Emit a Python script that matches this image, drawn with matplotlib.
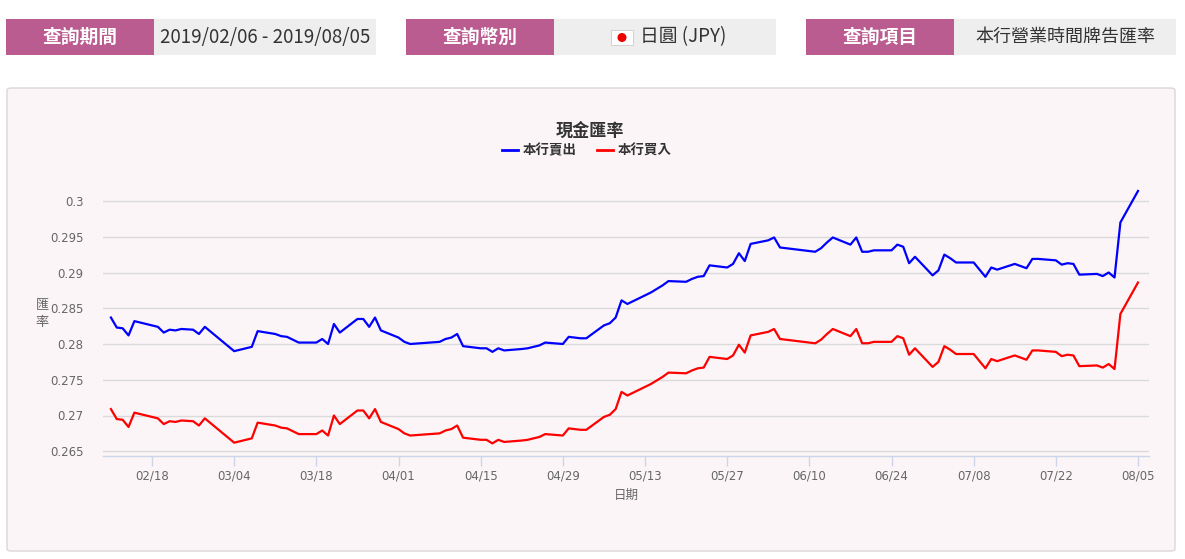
import pandas as pd
import matplotlib
matplotlib.use('Agg')
import matplotlib.pyplot as plt
import matplotlib.dates as mdates
from matplotlib.patches import Rectangle, FancyBboxPatch, Ellipse
from matplotlib.lines import Line2D
from matplotlib.ticker import FixedLocator, FuncFormatter

plt.rcParams['font.family'] = ['Noto Sans CJK TC', 'DejaVu Sans']

# business days shown in the chart
dates = ['2019-02-11', '2019-02-12', '2019-02-13', '2019-02-14', '2019-02-15',
         '2019-02-18', '2019-02-19', '2019-02-20', '2019-02-21', '2019-02-22', '2019-02-23',
         '2019-02-25', '2019-02-26', '2019-02-27',
         '2019-03-04', '2019-03-05', '2019-03-06', '2019-03-07', '2019-03-08',
         '2019-03-11', '2019-03-12', '2019-03-13', '2019-03-14', '2019-03-15',
         '2019-03-18', '2019-03-19', '2019-03-20', '2019-03-21', '2019-03-22',
         '2019-03-25', '2019-03-26', '2019-03-27', '2019-03-28', '2019-03-29',
         '2019-04-01', '2019-04-02', '2019-04-03',
         '2019-04-08', '2019-04-09', '2019-04-10', '2019-04-11', '2019-04-12',
         '2019-04-15', '2019-04-16', '2019-04-17', '2019-04-18', '2019-04-19',
         '2019-04-22', '2019-04-23', '2019-04-24', '2019-04-25', '2019-04-26',
         '2019-04-29', '2019-04-30', '2019-05-02', '2019-05-03',
         '2019-05-06', '2019-05-07', '2019-05-08', '2019-05-09', '2019-05-10',
         '2019-05-13', '2019-05-14', '2019-05-15', '2019-05-16', '2019-05-17',
         '2019-05-20', '2019-05-21', '2019-05-22', '2019-05-23', '2019-05-24',
         '2019-05-27', '2019-05-28', '2019-05-29', '2019-05-30', '2019-05-31',
         '2019-06-03', '2019-06-04', '2019-06-05', '2019-06-06',
         '2019-06-10', '2019-06-11', '2019-06-12', '2019-06-13', '2019-06-14',
         '2019-06-17', '2019-06-18', '2019-06-19', '2019-06-20', '2019-06-21',
         '2019-06-24', '2019-06-25', '2019-06-26', '2019-06-27', '2019-06-28',
         '2019-07-01', '2019-07-02', '2019-07-03', '2019-07-04', '2019-07-05',
         '2019-07-08', '2019-07-09', '2019-07-10', '2019-07-11', '2019-07-12',
         '2019-07-15', '2019-07-16', '2019-07-17', '2019-07-18', '2019-07-19',
         '2019-07-22', '2019-07-23', '2019-07-24', '2019-07-25', '2019-07-26',
         '2019-07-29', '2019-07-30', '2019-07-31', '2019-08-01', '2019-08-02',
         '2019-08-05']

# 本行賣出
sell = [0.2837, 0.2823, 0.2822, 0.2812, 0.2832,
        0.2826, 0.2824, 0.2816, 0.2820, 0.2819, 0.2821,
        0.2820, 0.2814, 0.2824,
        0.2790, 0.2792, 0.2794, 0.2796, 0.2818,
        0.2814, 0.2811, 0.2810, 0.2806, 0.2802,
        0.2802, 0.2807, 0.2800, 0.2828, 0.2816,
        0.2835, 0.2835, 0.2824, 0.2837, 0.2819,
        0.2809, 0.2803, 0.2800,
        0.2803, 0.2807, 0.2809, 0.2814, 0.2797,
        0.2794, 0.2794, 0.2789, 0.2794, 0.2791,
        0.2793, 0.2794, 0.2796, 0.2798, 0.2802,
        0.2800, 0.2810, 0.2808, 0.2808,
        0.2826, 0.2829, 0.2837, 0.2861, 0.2856,
        0.2868, 0.2872, 0.2877, 0.2882, 0.2888,
        0.2887, 0.2891, 0.2894, 0.2895, 0.2910,
        0.2907, 0.2912, 0.2927, 0.2916, 0.2940,
        0.2945, 0.2949, 0.2935, 0.2934,
        0.2930, 0.2929, 0.2934, 0.2942, 0.2949,
        0.2939, 0.2949, 0.2929, 0.2929, 0.2931,
        0.2931, 0.2939, 0.2936, 0.2913, 0.2922,
        0.2896, 0.2903, 0.2925, 0.2920, 0.2914,
        0.2914, 0.2904, 0.2894, 0.2907, 0.2904,
        0.2912, 0.2909, 0.2906, 0.2919, 0.2919,
        0.2917, 0.2911, 0.2913, 0.2912, 0.2897,
        0.2898, 0.2895, 0.2900, 0.2893, 0.2970,
        0.3014]

# 本行買入
buy = [0.2709, 0.2695, 0.2694, 0.2684, 0.2704,
       0.2698, 0.2696, 0.2688, 0.2692, 0.2691, 0.2693,
       0.2692, 0.2686, 0.2696,
       0.2662, 0.2664, 0.2666, 0.2668, 0.2690,
       0.2686, 0.2683, 0.2682, 0.2678, 0.2674,
       0.2674, 0.2679, 0.2672, 0.2700, 0.2688,
       0.2707, 0.2707, 0.2696, 0.2709, 0.2691,
       0.2681, 0.2675, 0.2672,
       0.2675, 0.2679, 0.2681, 0.2686, 0.2669,
       0.2666, 0.2666, 0.2661, 0.2666, 0.2663,
       0.2665, 0.2666, 0.2668, 0.2670, 0.2674,
       0.2672, 0.2682, 0.2680, 0.2680,
       0.2698, 0.2701, 0.2709, 0.2733, 0.2728,
       0.2740, 0.2744, 0.2749, 0.2754, 0.2760,
       0.2759, 0.2763, 0.2766, 0.2767, 0.2782,
       0.2779, 0.2784, 0.2799, 0.2788, 0.2812,
       0.2817, 0.2821, 0.2807, 0.2806,
       0.2802, 0.2801, 0.2806, 0.2814, 0.2821,
       0.2811, 0.2821, 0.2801, 0.2801, 0.2803,
       0.2803, 0.2811, 0.2808, 0.2785, 0.2794,
       0.2768, 0.2775, 0.2797, 0.2792, 0.2786,
       0.2786, 0.2776, 0.2766, 0.2779, 0.2776,
       0.2784, 0.2781, 0.2778, 0.2791, 0.2791,
       0.2789, 0.2783, 0.2785, 0.2784, 0.2769,
       0.2770, 0.2767, 0.2772, 0.2765, 0.2842,
       0.2886]

x_ticks = ['2019-02-18', '2019-03-04', '2019-03-18', '2019-04-01', '2019-04-15',
           '2019-04-29', '2019-05-13', '2019-05-27', '2019-06-10', '2019-06-24',
           '2019-07-08', '2019-07-22', '2019-08-05']
y_ticks = [0.265, 0.27, 0.275, 0.28, 0.285, 0.29, 0.295, 0.3]

header_labels = ['查詢期間', '查詢幣別', '查詢項目']
header_values = ['2019/02/06 - 2019/08/05', '日圓 (JPY)', '本行營業時間牌告匯率']

W, H = 1185, 559
PINK = '#bb5c91'
GREY_TXT = '#666666'


def fx(x):
    return x / W


def fy(y):
    return 1 - y / H


fig = plt.figure(figsize=(W / 100, H / 100), dpi=100)
fig.patch.set_facecolor('white')

# header boxes
for i, (lab, val) in enumerate(zip(header_labels, header_values)):
    x0 = 6 + i * 400
    fig.add_artist(Rectangle((fx(x0), fy(55)), fx(148), 36 / H, transform=fig.transFigure,
                             facecolor=PINK, edgecolor='none', zorder=-5))
    fig.add_artist(Rectangle((fx(x0 + 148), fy(55)), fx(222), 36 / H, transform=fig.transFigure,
                             facecolor='#eeeeee', edgecolor='none', zorder=-5))
    fig.text(fx(x0 + 74), fy(37), lab, color='white', fontsize=13.5, fontweight='bold',
             ha='center', va='center')
    if i == 1:
        # little Japanese flag
        fig.add_artist(Rectangle((fx(611), fy(45)), fx(22), 15 / H, transform=fig.transFigure,
                                 facecolor='white', edgecolor='#cccccc', lw=0.6, zorder=2))
        fig.add_artist(Ellipse((fx(622), fy(37.5)), fx(9), 9 / H, transform=fig.transFigure,
                               facecolor='#ee0000', edgecolor='none', zorder=3))
        fig.text(fx(640), fy(37), val, color='#333333', fontsize=13.5, ha='left', va='center')
    else:
        fig.text(fx(x0 + 148 + 111), fy(37), val, color='#333333', fontsize=13.5 if i == 0 else 13,
                 ha='center', va='center')

# chart panel
fig.add_artist(FancyBboxPatch((fx(7), fy(551)), fx(1168), 463 / H, transform=fig.transFigure,
                              boxstyle='round,pad=0,rounding_size=0.004',
                              facecolor='#fbf5f7', edgecolor='#dcd6d9', lw=1, zorder=-5))

# title + legend
fig.text(fx(590), fy(130.5), '現金匯率', fontsize=12.3, fontweight='bold', color='#333333',
         ha='center', va='center')
fig.add_artist(Line2D([fx(502), fx(518)], [fy(150.5), fy(150.5)], transform=fig.transFigure,
                      color='#0000ff', lw=2))
fig.text(fx(523), fy(150.5), '本行賣出', fontsize=9.7, fontweight='bold', color='#333333',
         ha='left', va='center')
fig.add_artist(Line2D([fx(597), fx(613)], [fy(150.5), fy(150.5)], transform=fig.transFigure,
                      color='#ff0000', lw=2))
fig.text(fx(618), fy(150.5), '本行買入', fontsize=9.7, fontweight='bold', color='#333333',
         ha='left', va='center')

# plot area
ax = fig.add_axes([fx(103), fy(456), fx(1149 - 103), (456 - 185) / H])
ax.set_facecolor('none')

d = pd.to_datetime(dates)
ax.plot(d, sell, color='#0000ff', lw=1.6, solid_joinstyle='round', zorder=3)
ax.plot(d, buy, color='#ff0000', lw=1.6, solid_joinstyle='round', zorder=3)

px_day = (1138 - 152) / 168
left = pd.Timestamp('2019-02-18') - pd.Timedelta(days=(152 - 103) / px_day)
right = pd.Timestamp('2019-08-05') + pd.Timedelta(days=(1149 - 1138) / px_day)
ax.set_xlim(left, right)
ax.set_ylim(0.3 - (456 - 201) / 7150, 0.3 + (201 - 185) / 7150)

ax.xaxis.set_major_locator(FixedLocator(mdates.date2num(pd.to_datetime(x_ticks))))
ax.xaxis.set_major_formatter(mdates.DateFormatter('%m/%d'))
ax.yaxis.set_major_locator(FixedLocator(y_ticks))
ax.yaxis.set_major_formatter(FuncFormatter(lambda v, p: f'{v:.3f}'.rstrip('0')))

ax.grid(axis='y', color='#dadada', lw=1)
ax.set_axisbelow(True)
for s in ['top', 'right', 'left']:
    ax.spines[s].set_visible(False)
ax.spines['bottom'].set_color('#ccd6eb')
ax.spines['bottom'].set_linewidth(1)

ax.tick_params(axis='x', length=7, width=1, color='#ccd6eb', labelsize=8.5,
               labelcolor=GREY_TXT, pad=3)
ax.tick_params(axis='y', length=0, labelsize=8.5, labelcolor=GREY_TXT, pad=14)
for lbl in ax.get_xticklabels() + ax.get_yticklabels():
    lbl.set_fontfamily('DejaVu Sans')

fig.text(fx(42), fy(313.5), '匯\n率', fontsize=9.5, color=GREY_TXT, ha='center', va='center',
         linespacing=1.55)
fig.text(fx(626), fy(495), '日期', fontsize=9, color=GREY_TXT, ha='center', va='center')

fig.savefig('out.png', dpi=100)
